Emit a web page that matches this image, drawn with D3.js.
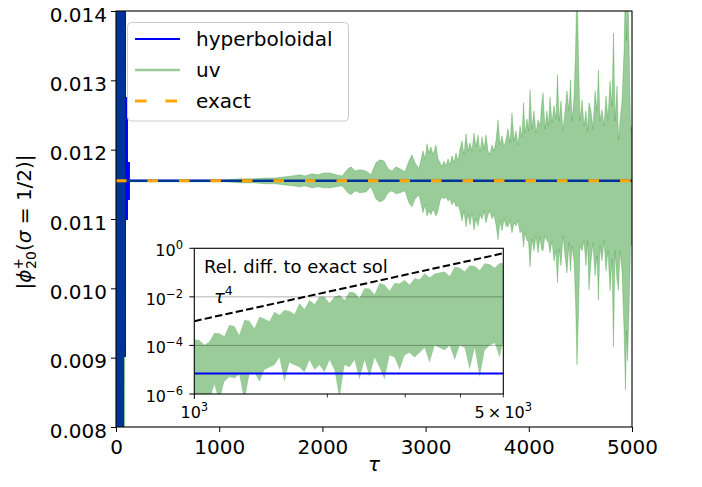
<!DOCTYPE html>
<html><head><meta charset="utf-8">
<script src="https://cdn.jsdelivr.net/npm/d3@7"></script>
<style>
body{margin:0;background:#fff}
text{font-family:"DejaVu Sans",sans-serif;fill:#000}
</style>
</head><body>
<svg id="chart" width="702" height="487"></svg>
<script>
// ---------------- data ----------------
const exactValue = 0.01155;
const xTicks = [0, 1000, 2000, 3000, 4000, 5000];
const yTicks = [0.008, 0.009, 0.010, 0.011, 0.012, 0.013, 0.014];
const legendLabels = ["hyperboloidal", "uv", "exact"];

// hyperboloidal: initial transient (envelope), then settles on exact value
const hypTau   = [0, 78, 97, 116, 135, 145];
const hypUpper = [0.0150, 0.0150, 0.01276, 0.011822, 0.01155, 0.01155];
const hypLower = [0.0070, 0.00901, 0.010986, 0.011275, 0.01155, 0.01155];
const hypLineTau = [0, 5000];
const hypLineVal = [0.01155, 0.01155];
const exactTau = [0, 5000];
const exactVal = [0.01155, 0.01155];

// uv: envelope of the fast oscillation
const uvTau = [0,84,87,1056,1202,1347,1444,1541,1638,1705,1783,1831,1899,1957,2016,2074,2132,2190,2248,2277,2316,2364,2423,2471,2519,2558,2597,2636,2674,2713,2752,2800,2839,2868,2897,2936,
  2975,2994,3014,3033,3052,3072,3101,3120,3140,3159,
  3178,3198,3217,3236,3256,3275,3295,3314,3333,3353,
  3372,3392,3411,3430,3450,3469,3488,3508,3527,3547,
  3566,3585,3605,3624,3643,3663,3682,3702,3721,3740,
  3760,3779,3798,3818,3837,3857,3876,3895,3915,3934,
  3949,3963,3983,3997,4012,4031,4050,4070,4089,4109,
  4123,4138,4157,4176,4191,4205,4225,4244,4264,4278,
  4293,4312,4331,4351,4370,4390,4404,4419,4438,4453,
  4467,4482,4496,4516,4535,4554,4569,4583,4603,4622,
  4642,4661,4675,4690,4709,4729,4748,4767,4787,4806,
  4821,4835,4855,4869,4884,4903,4923,4937,4947,4957,
  4971,4986,5000];
const uvUpper = [0.0150,0.0150,0.011564,0.011564,0.011579,0.011579,0.011593,0.011593,0.011608,0.011622,0.011637,0.011622,0.011651,0.011637,0.011665,0.011665,0.011637,0.011622,0.011723,0.011752,0.011694,0.011709,0.011694,0.011637,0.011810,0.011853,0.011838,0.011723,0.011694,0.011752,0.011723,0.011680,0.011838,0.011925,0.011810,0.011723,
  0.011983,0.011867,0.012084,0.011954,0.012040,0.011925,0.012069,0.011867,0.011810,0.011752,
  0.011838,0.011766,0.011867,0.011781,0.011911,0.011810,0.011954,0.011838,0.012011,0.012127,
  0.011925,0.012228,0.011983,0.012098,0.011983,0.012242,0.012040,0.012213,0.011954,0.012184,
  0.012011,0.012213,0.011983,0.011925,0.012069,0.011983,0.012127,0.012430,0.012069,0.012199,
  0.012040,0.012141,0.012300,0.012098,0.012531,0.012127,0.012271,0.012069,0.012343,0.012184,
  0.012675,0.012242,0.012444,0.012271,0.012862,0.012300,0.012559,0.012242,0.012430,0.012343,
  0.012632,0.012819,0.012300,0.012559,0.012343,0.012761,0.012386,0.012632,0.012444,0.013079,
  0.012415,0.012704,0.012271,0.012559,0.012848,0.012559,0.013006,0.012415,0.012761,0.013425,
  0.0145,0.013280,0.012415,0.012718,0.012343,0.012559,0.012271,0.012675,0.012559,0.012300,
  0.012848,0.012559,0.013151,0.012415,0.012574,0.012343,0.012776,0.012444,0.012992,0.012632,
  0.013684,0.012415,0.012920,0.012141,0.012415,0.012704,0.013425,0.0145,0.013569,0.0145,
  0.013569,0.012285,0.012343];
const uvLower = [0.0070,0.0070,0.011536,0.011536,0.011521,0.011521,0.011507,0.011507,0.011492,0.011478,0.011464,0.011478,0.011449,0.011464,0.011449,0.011449,0.011464,0.011478,0.011377,0.011348,0.011406,0.011377,0.011391,0.011464,0.011290,0.011247,0.011276,0.011377,0.011406,0.011363,0.011377,0.011406,0.011233,0.011175,0.011290,0.011348,
  0.011089,0.011204,0.011045,0.011117,0.011060,0.011146,0.011045,0.011117,0.011262,0.011319,
  0.011290,0.011319,0.011262,0.011290,0.011204,0.011262,0.011175,0.011204,0.011117,0.010973,
  0.011117,0.010887,0.011074,0.010916,0.011089,0.010843,0.011002,0.010901,0.011060,0.011002,
  0.011117,0.010944,0.011060,0.011117,0.011002,0.011060,0.010916,0.010699,0.010973,0.010829,
  0.011002,0.010901,0.010887,0.010973,0.010800,0.010944,0.010901,0.010973,0.010800,0.010829,
  0.010598,0.010800,0.010685,0.010685,0.010310,0.010714,0.010541,0.010757,0.010512,0.010742,
  0.010569,0.010541,0.010757,0.010685,0.010656,0.010512,0.010685,0.010396,0.010541,0.010079,
  0.010569,0.010324,0.010757,0.010468,0.010223,0.010656,0.010252,0.010613,0.010396,0.009820,
  0.008897,0.009675,0.010613,0.010541,0.010685,0.010324,0.010685,0.009978,0.010396,0.010656,
  0.010180,0.010468,0.009834,0.010613,0.010396,0.010685,0.010252,0.010541,0.009964,0.010425,
  0.009156,0.010541,0.010108,0.009978,0.010541,0.010252,0.009387,0.008536,0.009387,0.008954,
  0.009675,0.010627,0.010627];

// inset: relative difference to exact solution
const relTau = [1000,1026,1054,1081,1110,1139,1169,1200,1232,1264,1298,1332,1367,1404,1441,1479,1518,1558,1599,1641,1685,1729,1775,1822,1870,1919,1970,2022,2075,2130,2187,2244,2304,2364,2427,2491,2557,2624,2694,2765,2838,2913,2990,3069,3150,3233,3319,3406,3496,3589,3684,3781,3881,3983,4089,4197,4307,4421,4538,4658,4781,4907,5000];
const relUpper = [1.78e-4,1.66e-4,1.05e-4,1.41e-4,3.24e-4,3.16e-4,2.40e-4,6.92e-4,6.31e-4,2.69e-4,1.12e-3,1.05e-3,5.01e-4,1.51e-3,1.26e-3,1.00e-3,2.45e-3,1.78e-3,2.88e-3,2.63e-3,1.91e-3,5.50e-3,3.16e-3,7.41e-3,5.01e-3,1.02e-2,1.00e-2,5.62e-3,1.02e-2,1.20e-2,7.41e-3,1.62e-2,1.51e-2,8.91e-3,2.29e-2,2.19e-2,1.26e-2,3.72e-2,3.16e-2,1.78e-2,3.72e-2,3.55e-2,4.90e-2,3.16e-2,5.89e-2,5.25e-2,9.33e-2,6.31e-2,8.91e-2,1.00e-1,1.12e-1,7.08e-2,1.74e-1,1.58e-1,1.12e-1,1.95e-1,1.86e-1,1.26e-1,2.40e-1,2.19e-1,1.58e-1,2.51e-1,2.40e-1];
const relLower = [5.0e-7,5.0e-7,5.0e-7,5.0e-7,2.51e-6,5.0e-7,3.16e-6,5.01e-6,4.47e-6,6.31e-6,5.0e-7,6.31e-6,7.94e-6,3.16e-6,1.0e-5,1.26e-5,1.58e-5,3.16e-5,3.16e-6,2.0e-5,1.58e-5,1.26e-5,7.94e-6,2.51e-5,1.0e-5,1.58e-5,7.94e-6,2.51e-5,1.0e-5,6.3e-7,1.58e-5,1.26e-5,2.51e-5,3.98e-6,2.51e-5,5.01e-6,3.16e-5,1.26e-5,3.98e-6,3.98e-5,3.16e-5,1.0e-5,3.98e-5,5.01e-5,3.16e-5,5.01e-5,7.94e-5,2.0e-5,1.0e-4,7.94e-5,6.31e-5,1.0e-4,2.51e-5,1.0e-4,7.94e-5,1.0e-5,7.94e-5,5.01e-6,6.31e-5,1.0e-4,1.26e-4,3.16e-5,1.58e-4];
const relHypTau = [1000, 5000];
const relHypVal = [7e-6, 7e-6];
const tau4Tau = [1000, 5000];
const tau4Val = [1e-3, 6.25e-1];
const insetYTicks = [1, 1e-2, 1e-4, 1e-6];
const insetYExp = ["0", "\u22122", "\u22124", "\u22126"];
const insetXMinor = [2000, 3000, 4000, 5000];

// ---------------- layout ----------------
const svg = d3.select("#chart");
const M = {l: 116, r: 632, t: 11, b: 427};
const x = d3.scaleLinear().domain([0, 5000]).range([M.l, M.r]);
const y = d3.scaleLinear().domain([0.008, 0.014]).range([M.b, M.t]);

const defs = svg.append("defs");
defs.append("clipPath").attr("id", "mainClip").append("rect")
  .attr("x", M.l).attr("y", M.t).attr("width", M.r - M.l).attr("height", M.b - M.t);

const main = svg.append("g").attr("clip-path", "url(#mainClip)");

const idx = a => a.map((_, i) => i);

// hyperboloidal transient (blue)
main.append("path")
  .datum(idx(hypTau))
  .attr("d", d3.area().curve(d3.curveStepAfter)
    .x(i => x(hypTau[i])).y0(i => y(hypLower[i])).y1(i => y(hypUpper[i])))
  .attr("fill", "#0000ff");
main.append("path")
  .datum(idx(hypLineTau))
  .attr("d", d3.line().x(i => x(hypLineTau[i])).y(i => y(hypLineVal[i])))
  .attr("fill", "none").attr("stroke", "#0000ff").attr("stroke-width", 2.5);

// uv (green, translucent)
main.append("path")
  .datum(idx(uvTau))
  .attr("d", d3.area().x(i => x(uvTau[i])).y0(i => y(uvLower[i])).y1(i => y(uvUpper[i])))
  .attr("fill", "#008000").attr("fill-opacity", 0.4)
  .attr("stroke", "#008000").attr("stroke-opacity", 0.4).attr("stroke-width", 0.6);

// exact (orange dashed)
main.append("path")
  .datum(idx(exactTau))
  .attr("d", d3.line().x(i => x(exactTau[i])).y(i => y(exactVal[i])))
  .attr("fill", "none").attr("stroke", "#ffa500").attr("stroke-width", 3)
  .attr("stroke-dasharray", "10.5,21");

// axes
const xAxis = svg.append("g").attr("transform", `translate(0,${M.b})`)
  .call(d3.axisBottom(x).tickValues(xTicks).tickFormat(d3.format("d")).tickSize(5).tickSizeOuter(0));
xAxis.selectAll("text").attr("y", 13).attr("dy", "0.71em").style("font-size", "20px")
  .attr("font-family", "DejaVu Sans");
const yAxis = svg.append("g").attr("transform", `translate(${M.l},0)`)
  .call(d3.axisLeft(y).tickValues(yTicks).tickFormat(d3.format(".3f")).tickSize(5).tickSizeOuter(0));
yAxis.selectAll("text").attr("x", -9).attr("dy", "0.5em").style("font-size", "20px")
  .attr("font-family", "DejaVu Sans");
svg.selectAll(".domain").remove();
svg.selectAll(".tick line").attr("stroke", "#000").attr("stroke-width", 1);

svg.append("rect").attr("x", M.l).attr("y", M.t).attr("width", M.r - M.l).attr("height", M.b - M.t)
  .attr("fill", "none").attr("stroke", "#000").attr("stroke-width", 1.1);

// axis labels
svg.append("text").attr("x", (M.l + M.r) / 2).attr("y", 471).attr("text-anchor", "middle")
  .style("font-size", "20px").style("font-style", "italic").text("\u03c4");

const yl = svg.append("text").attr("transform", "translate(31,222) rotate(-90)")
  .attr("text-anchor", "middle").style("font-size", "20px");
yl.append("tspan").text("|");
yl.append("tspan").style("font-style", "italic").text("\u03d5");
yl.append("tspan").attr("dy", -8).style("font-size", "14px").text("+");
yl.append("tspan").attr("dx", -11).attr("dy", 13).style("font-size", "14px").text("20");
yl.append("tspan").attr("dy", -5).text("(");
yl.append("tspan").style("font-style", "italic").text("\u03c3");
yl.append("tspan").text(" = 1/2)|");

// legend
const lg = svg.append("g");
lg.append("rect").attr("x", 127.5).attr("y", 22.5).attr("width", 221).attr("height", 98.5)
  .attr("rx", 4).attr("fill", "#fff").attr("fill-opacity", 0.8)
  .attr("stroke", "#cccccc").attr("stroke-width", 1);
const legStyles = [
  {c: "#0000ff", o: 1, w: 2, dash: null},
  {c: "#008000", o: 0.4, w: 2.5, dash: null},
  {c: "#ffa500", o: 1, w: 3, dash: "11.5,19"}
];
legendLabels.forEach((lab, i) => {
  const ly = 39 + i * 31;
  const ln = lg.append("line").attr("x1", 135).attr("x2", 180).attr("y1", ly).attr("y2", ly)
    .attr("stroke", legStyles[i].c).attr("stroke-opacity", legStyles[i].o)
    .attr("stroke-width", legStyles[i].w);
  if (legStyles[i].dash) ln.attr("stroke-dasharray", legStyles[i].dash);
  lg.append("text").attr("x", 196).attr("y", ly + 7).style("font-size", "20px").text(lab);
});

// ---------------- inset ----------------
const I = {l: 194.3, r: 503.3, t: 248.3, b: 394};
const xi = d3.scaleLog().domain([1000, 5000]).range([I.l, I.r]);
const yi = d3.scaleLog().domain([1e-6, 1]).range([I.b, I.t]);
defs.append("clipPath").attr("id", "insetClip").append("rect")
  .attr("x", I.l).attr("y", I.t).attr("width", I.r - I.l).attr("height", I.b - I.t);

const ins = svg.append("g");
ins.append("rect").attr("x", I.l).attr("y", I.t).attr("width", I.r - I.l).attr("height", I.b - I.t)
  .attr("fill", "#fff");
const insP = ins.append("g").attr("clip-path", "url(#insetClip)");

insP.append("path")
  .datum(idx(relTau))
  .attr("d", d3.area().x(i => xi(relTau[i])).y0(i => yi(relLower[i])).y1(i => yi(relUpper[i])))
  .attr("fill", "#008000").attr("fill-opacity", 0.4);

// grid lines at major y ticks
[1e-2, 1e-4].forEach(v => {
  insP.append("line").attr("x1", I.l).attr("x2", I.r).attr("y1", yi(v)).attr("y2", yi(v))
    .attr("stroke", "#000").attr("stroke-opacity", 0.3).attr("stroke-width", 1);
});

insP.append("path")
  .datum(idx(relHypTau))
  .attr("d", d3.line().x(i => xi(relHypTau[i])).y(i => yi(relHypVal[i])))
  .attr("fill", "none").attr("stroke", "#0000ff").attr("stroke-width", 2);

insP.append("path")
  .datum(idx(tau4Tau))
  .attr("d", d3.line().x(i => xi(tau4Tau[i])).y(i => yi(tau4Val[i])))
  .attr("fill", "none").attr("stroke", "#000").attr("stroke-width", 2)
  .attr("stroke-dasharray", "7.4,3.2");

ins.append("rect").attr("x", I.l).attr("y", I.t).attr("width", I.r - I.l).attr("height", I.b - I.t)
  .attr("fill", "none").attr("stroke", "#000").attr("stroke-width", 1.1);

// inset y ticks
insetYTicks.forEach((v, i) => {
  const ty = yi(v);
  ins.append("line").attr("x1", I.l - 5).attr("x2", I.l).attr("y1", ty).attr("y2", ty)
    .attr("stroke", "#000").attr("stroke-width", 1);
  const t = ins.append("text").attr("x", 183).attr("y", ty + 8).attr("text-anchor", "end")
    .style("font-size", "16px");
  t.append("tspan").text("10");
  t.append("tspan").attr("dy", -7).style("font-size", "11.5px").text(insetYExp[i]);
});
// inset x ticks
ins.append("line").attr("x1", xi(1000)).attr("x2", xi(1000)).attr("y1", I.b).attr("y2", I.b + 5)
  .attr("stroke", "#000").attr("stroke-width", 1);
insetXMinor.forEach(v => {
  ins.append("line").attr("x1", xi(v)).attr("x2", xi(v)).attr("y1", I.b).attr("y2", I.b + 3.5)
    .attr("stroke", "#000").attr("stroke-width", 0.8);
});
const xl1 = ins.append("text").attr("x", xi(1000)).attr("y", 418).attr("text-anchor", "middle")
  .style("font-size", "16px");
xl1.append("tspan").text("10");
xl1.append("tspan").attr("dy", -7).style("font-size", "11.5px").text("3");
const xl2 = ins.append("text").attr("x", xi(5000)).attr("y", 418).attr("text-anchor", "middle")
  .style("font-size", "16px");
xl2.append("tspan").text("5\u2009\u00d7\u200910");
xl2.append("tspan").attr("dy", -7).style("font-size", "11.5px").text("3");

ins.append("text").attr("x", 204).attr("y", 272.5).style("font-size", "18px")
  .text("Rel. diff. to exact sol");
const tl = ins.append("text").attr("x", 214).attr("y", 303).style("font-size", "18px");
tl.append("tspan").style("font-style", "italic").text("\u03c4");
tl.append("tspan").attr("dy", -8).style("font-size", "12.5px").text("4");
</script>
</body></html>
